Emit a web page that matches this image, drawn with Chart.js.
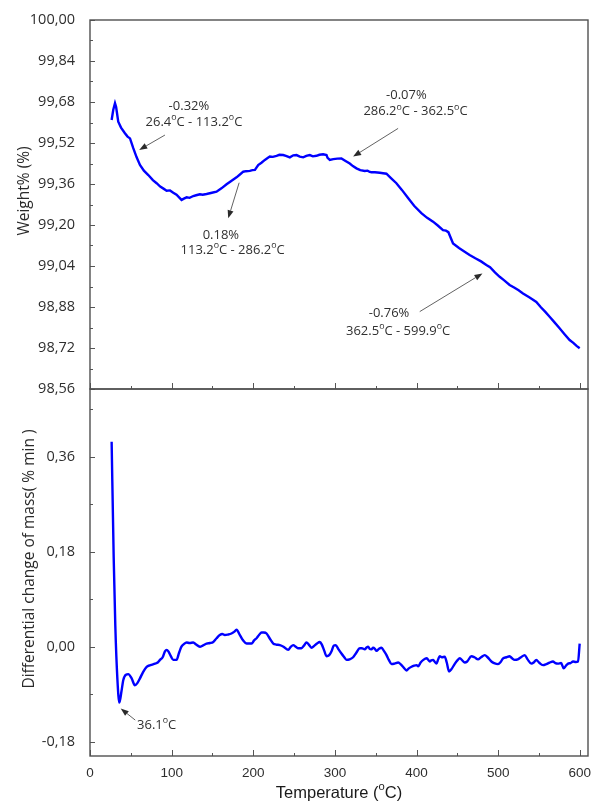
<!DOCTYPE html>
<html>
<head>
<meta charset="utf-8">
<script src="https://cdn.jsdelivr.net/npm/chart.js@4/dist/chart.umd.min.js"></script>
<style>
  html, body { margin: 0; padding: 0; background: #ffffff; }
  #wrap { position: relative; width: 592px; height: 810px; }
  #wrap canvas { position: absolute; left: 0; top: 0; }
</style>
</head>
<body>
<div id="wrap">
  <canvas id="tg" width="592" height="810"></canvas>
  <canvas id="dtg" width="592" height="810"></canvas>
</div>
<script>
// ---- TG curve: temperature (°C) and residual weight (%) ----
const tgTemp = [
  26.5, 28.5, 30.6, 32, 34.6, 38, 42.8, 46, 49, 53,
  57, 61.2, 66, 71.4, 77, 81.6, 86, 90, 93.9, 98,
  102, 106, 110, 112.2, 115, 118.4, 122, 126.5, 130, 134.6,
  138, 142.8, 148, 155, 161, 167.3, 173, 179.5, 184, 187.7,
  191, 195.8, 199, 202, 206, 210, 214.2, 218, 220.3, 224,
  228.5, 232, 236.6, 240, 244.8, 249, 253, 257, 261.1, 265,
  269.3, 273, 277.4, 281, 285.6, 289.7, 291, 293.8, 298, 303,
  308, 313, 318.2, 322, 326.4, 331, 336.6, 340, 342.7, 344.8,
  349, 355, 359, 363.1, 368, 375.3, 382, 389.6, 397, 405.9,
  413, 420.2, 426, 432.4, 436, 439, 444.7, 452, 458, 465,
  472, 479, 485.5, 490, 496, 501.8, 507, 514, 520, 525,
  530.4, 538, 546.7, 552, 558, 563, 569, 575.2, 581, 587.5,
  592, 596, 599.8
];
const tgWeight = [
  99.61, 99.65, 99.675, 99.66, 99.603, 99.58, 99.558, 99.545, 99.538, 99.50,
  99.465, 99.434, 99.412, 99.395, 99.375, 99.363, 99.35, 99.342, 99.334, 99.335,
  99.326, 99.318, 99.305, 99.298, 99.303, 99.308, 99.306, 99.313, 99.316, 99.32,
  99.318, 99.321, 99.325, 99.33, 99.343, 99.359, 99.372, 99.386, 99.398, 99.408,
  99.41, 99.411, 99.414, 99.415, 99.434, 99.443, 99.454, 99.462, 99.467, 99.466,
  99.47, 99.474, 99.473, 99.47, 99.464, 99.472, 99.473, 99.467, 99.464, 99.47,
  99.473, 99.468, 99.47, 99.474, 99.476, 99.473, 99.462, 99.454, 99.457, 99.459,
  99.46, 99.45, 99.44, 99.43, 99.421, 99.414, 99.411, 99.412, 99.407, 99.406,
  99.406, 99.404, 99.402, 99.40, 99.385, 99.363, 99.337, 99.305, 99.275, 99.246,
  99.228, 99.213, 99.198, 99.18, 99.178, 99.172, 99.128, 99.11, 99.098, 99.083,
  99.07, 99.058, 99.044, 99.035, 99.015, 98.998, 98.985, 98.966, 98.955, 98.945,
  98.933, 98.918, 98.90, 98.88, 98.86, 98.842, 98.82, 98.797, 98.775, 98.751,
  98.74, 98.728, 98.719
];

// ---- DTG curve: temperature (°C) and rate of mass change (%/min) ----
const dtgTemp = [
  26.5, 29, 31, 33.5, 36, 38.5, 40.8, 44, 46.9, 51,
  55, 58, 61.2, 65, 69.4, 74, 79.6, 83, 85.7, 89,
  91.8, 94, 96, 99, 102, 106, 109, 112, 115, 118.4,
  122, 126.5, 130, 134.6, 138, 142.8, 147, 151, 155, 159,
  162, 165.2, 169, 173.3, 176.5, 179.5, 183.6, 187.5, 191.8, 197.9,
  201, 204, 207, 210.2, 213, 216.3, 220, 224.5, 228, 232.6,
  237, 242.8, 246, 249, 252, 255.1, 259, 262, 265.2, 268,
  271.3, 275, 278, 281.5, 284, 287, 289.7, 293, 296, 298.5,
  301, 304, 308, 311, 314.2, 318, 322.3, 326, 330.5, 333,
  336.6, 338.5, 340.7, 342.5, 344.8, 346.8, 349, 351, 354, 357.1,
  360, 363.2, 366, 369.3, 373, 377.5, 381, 384.5, 387.7, 390.5,
  393.8, 397, 400, 402, 405, 408.3, 412.4, 416.2, 418, 420.2,
  422, 424.4, 426.5, 428.4, 431, 434.5, 437, 439.8, 443, 447,
  450, 453, 456, 459, 462, 467.2, 471, 475.3, 479, 483.5,
  487, 491.7, 495, 499.8, 503, 506, 510, 514, 517, 520.2,
  524, 528, 532.4, 536, 540.6, 543.5, 546.7, 550, 554.9, 559,
  563, 567.1, 570, 573.2, 577, 580.2, 583, 585.6, 588.5, 591.7,
  595, 597.8, 599.8
];
const dtgRate = [
  0.388, 0.17, 0.04, -0.06, -0.106, -0.085, -0.063, -0.053, -0.052, -0.06,
  -0.073, -0.069, -0.06, -0.048, -0.038, -0.035, -0.032, -0.03, -0.025, -0.02,
  -0.009, -0.006, -0.009, -0.018, -0.025, -0.025, -0.012, 0, 0.005, 0.008,
  0.007, 0.008, 0.004, 0, 0.002, 0.006, 0.007, 0.009, 0.016, 0.022,
  0.024, 0.022, 0.023, 0.025, 0.028, 0.032, 0.022, 0.012, 0.006, 0.006,
  0.012, 0.016, 0.022, 0.027, 0.027, 0.025, 0.016, 0.006, 0.004, 0.003,
  0, -0.006, 0, 0.003, 0, -0.003, -0.003, 0.002, 0.008, 0.004,
  -0.002, 0.002, 0.006, 0.009, 0.004, -0.008, -0.018, -0.016, -0.008, 0.002,
  0.003, -0.004, -0.013, -0.019, -0.025, -0.024, -0.02, -0.012, -0.003, -0.003,
  -0.005, -0.002, 0, -0.004, -0.005, -0.002, -0.004, -0.008, -0.004, -0.002,
  -0.008, -0.016, -0.025, -0.033, -0.032, -0.03, -0.034, -0.04, -0.045, -0.041,
  -0.038, -0.036, -0.035, -0.037, -0.03, -0.025, -0.022, -0.028, -0.026, -0.025,
  -0.028, -0.032, -0.024, -0.018, -0.02, -0.019, -0.03, -0.047, -0.042, -0.032,
  -0.026, -0.022, -0.026, -0.03, -0.028, -0.018, -0.02, -0.024, -0.02, -0.016,
  -0.02, -0.028, -0.031, -0.033, -0.029, -0.022, -0.02, -0.018, -0.022, -0.025,
  -0.024, -0.02, -0.016, -0.024, -0.032, -0.03, -0.025, -0.03, -0.035, -0.033,
  -0.03, -0.028, -0.031, -0.032, -0.031, -0.041, -0.036, -0.032, -0.031, -0.028,
  -0.029, -0.028, 0.006
];

// ---- axis ticks ----
const tempTicks = [0, 100, 200, 300, 400, 500, 600];
const tempMinor = [50, 150, 250, 350, 450, 550];
const weightTicks = [98.56, 98.72, 98.88, 99.04, 99.20, 99.36, 99.52, 99.68, 99.84, 100.00];
const weightMinor = [98.64, 98.80, 98.96, 99.12, 99.28, 99.44, 99.60, 99.76, 99.92];
const rateTicks = [-0.18, 0.00, 0.18, 0.36];
const rateMinor = [-0.09, 0.09, 0.27, 0.45];

// ---- step annotations on the TG panel (text anchored in data units) ----
const tgNoteText  = ['-0.32%', '26.4°C - 113.2°C', '0.18%', '113.2°C - 286.2°C',
                     '-0.07%', '286.2°C - 362.5°C', '-0.76%', '362.5°C - 599.9°C'];
const tgNoteTemp  = [121.2, 127.3, 160.3, 174.7, 387.5, 398.7, 366.3, 377.4];
const tgNoteWeight = [99.664, 99.602, 99.161, 99.100, 99.705, 99.642, 98.855, 98.787];
const tgArrowFromTemp = [91.8, 182.7, 377.4, 403.9];
const tgArrowFromWeight = [99.551, 99.365, 99.577, 98.862];
const tgArrowToTemp = [60.3, 169.3, 322.3, 480.7];
const tgArrowToWeight = [99.493, 99.226, 99.467, 99.011];

// ---- peak annotation on the DTG panel ----
const dtgNoteText = ['36.1°C'];
const dtgNoteTemp = [81.6];
const dtgNoteRate = [-0.148];
const dtgArrowFromTemp = [55.4];
const dtgArrowFromRate = [-0.139];
const dtgArrowToTemp = [37.6];
const dtgArrowToRate = [-0.117];

const TEMP_MAX = 610;
const LABEL_FONT = '"Open Sans", "Noto Sans", sans-serif';
const ARIAL = '"Liberation Sans", Arial, sans-serif';

// draws text where each "°" is rendered as a raised small "o"
function drawDegreeText(ctx, text, cx, cy, size, family, color) {
  const parts = text.split('°');
  const small = size * 0.68;
  ctx.fillStyle = color;
  ctx.textBaseline = 'middle';
  ctx.textAlign = 'left';
  let total = 0;
  const widths = parts.map((p, i) => {
    ctx.font = size + 'px ' + family;
    const w = ctx.measureText(p).width;
    let ow = 0;
    if (i < parts.length - 1) { ctx.font = small + 'px ' + family; ow = ctx.measureText('o').width; }
    total += w + ow;
    return [w, ow];
  });
  let x = cx - total / 2;
  parts.forEach((p, i) => {
    ctx.font = size + 'px ' + family;
    ctx.fillText(p, x, cy);
    x += widths[i][0];
    if (i < parts.length - 1) {
      ctx.font = small + 'px ' + family;
      ctx.fillText('o', x, cy - size * 0.36);
      x += widths[i][1];
    }
  });
}

function drawArrow(ctx, x1, y1, x2, y2) {
  const ang = Math.atan2(y2 - y1, x2 - x1);
  const hl = 8, hw = 3;
  const bx = x2 - hl * Math.cos(ang), by = y2 - hl * Math.sin(ang);
  ctx.strokeStyle = '#3a3a3a';
  ctx.lineWidth = 0.8;
  ctx.beginPath();
  ctx.moveTo(x1, y1);
  ctx.lineTo(bx, by);
  ctx.stroke();
  ctx.fillStyle = '#2a2a2a';
  ctx.beginPath();
  ctx.moveTo(x2, y2);
  ctx.lineTo(bx + hw * Math.sin(ang), by - hw * Math.cos(ang));
  ctx.lineTo(bx - hw * Math.sin(ang), by + hw * Math.cos(ang));
  ctx.closePath();
  ctx.fill();
}

// frame, inward tick marks, axis titles and annotations for one panel
function panelDecor(cfg) {
  return {
    id: 'panelDecor',
    afterDraw(chart) {
      const { ctx, chartArea: a } = chart;
      const xs = chart.scales.x, ys = chart.scales.y;
      ctx.save();
      ctx.strokeStyle = '#555555';
      ctx.lineWidth = 1;
      ctx.beginPath();
      const yTick = (v, len) => {
        const p = Math.round(ys.getPixelForValue(v)) + 0.5;
        ctx.moveTo(a.left, p); ctx.lineTo(a.left + len, p);
      };
      const xTick = (v, len) => {
        const p = Math.round(xs.getPixelForValue(v)) + 0.5;
        ctx.moveTo(p, a.bottom); ctx.lineTo(p, a.bottom - len);
      };
      cfg.yMajor.forEach(v => yTick(v, 5));
      cfg.yMinor.forEach(v => yTick(v, 3));
      tempTicks.forEach(v => xTick(v, 6));
      tempMinor.forEach(v => xTick(v, 3));
      ctx.stroke();

      ctx.strokeStyle = '#505050';
      ctx.lineWidth = 1.4;
      ctx.strokeRect(a.left, a.top, a.right - a.left, a.bottom - a.top);

      // y-axis title
      ctx.save();
      ctx.translate(cfg.titleX, cfg.titleY);
      ctx.rotate(-Math.PI / 2);
      ctx.fillStyle = '#2a2a2a';
      ctx.font = '15.5px ' + LABEL_FONT;
      ctx.textAlign = 'center';
      ctx.textBaseline = 'middle';
      ctx.fillText(cfg.title, 0, 0);
      ctx.restore();

      // arrows and notes
      cfg.arrows.forEach(([t1, v1, t2, v2]) => {
        drawArrow(ctx, xs.getPixelForValue(t1), ys.getPixelForValue(v1),
                       xs.getPixelForValue(t2), ys.getPixelForValue(v2));
      });
      cfg.notes.forEach(([txt, t, v]) => {
        drawDegreeText(ctx, txt, xs.getPixelForValue(t), ys.getPixelForValue(v), 13, LABEL_FONT, '#303030');
      });

      if (cfg.xTitle) {
        drawDegreeText(ctx, cfg.xTitle, (a.left + a.right) / 2, 793, 16.5, ARIAL, '#1a1a1a');
      }
      ctx.restore();
    }
  };
}

const commaFmt = v => Number(v).toFixed(2).replace('.', ',');

function yScale(min, max, ticks) {
  return {
    type: 'linear', min, max,
    afterFit(s) { s.width = 90; s.paddingTop = 0; s.paddingBottom = 0; },
    afterBuildTicks(s) { s.ticks = ticks.map(v => ({ value: v })); },
    grid: { display: false },
    border: { display: false },
    ticks: { callback: commaFmt, color: '#2e2e2e', padding: 7,
             font: { family: LABEL_FONT, size: 14.5 } }
  };
}

// ---- upper panel: TG ----
new Chart(document.getElementById('tg'), {
  type: 'line',
  data: {
    datasets: [{
      data: tgTemp.map((t, i) => ({ x: t, y: tgWeight[i] })),
      borderColor: '#0000ff', borderWidth: 2.4, pointRadius: 0, fill: false, tension: 0
    }]
  },
  options: {
    responsive: false, animation: false,
    layout: { padding: { left: 0, top: 20, right: 4, bottom: 421 } },
    scales: {
      x: { type: 'linear', min: 0, max: TEMP_MAX, display: false },
      y: yScale(98.56, 100, weightTicks)
    },
    plugins: { legend: { display: false }, tooltip: { enabled: false } }
  },
  plugins: [panelDecor({
    yMajor: weightTicks, yMinor: weightMinor,
    title: 'Weight% (%)', titleX: 25, titleY: 191,
    arrows: tgArrowFromTemp.map((t, i) => [t, tgArrowFromWeight[i], tgArrowToTemp[i], tgArrowToWeight[i]]),
    notes: tgNoteText.map((s, i) => [s, tgNoteTemp[i], tgNoteWeight[i]])
  })]
});

// ---- lower panel: DTG ----
new Chart(document.getElementById('dtg'), {
  type: 'line',
  data: {
    datasets: [{
      data: dtgTemp.map((t, i) => ({ x: t, y: dtgRate[i] })),
      borderColor: '#0000ff', borderWidth: 2.4, pointRadius: 0, fill: false,
      cubicInterpolationMode: 'monotone'
    }]
  },
  options: {
    responsive: false, animation: false,
    layout: { padding: { left: 0, top: 389, right: 4, bottom: 0 } },
    scales: {
      x: {
        type: 'linear', min: 0, max: TEMP_MAX,
        afterFit(s) { s.height = 54; s.paddingLeft = 0; s.paddingRight = 0; },
        afterBuildTicks(s) { s.ticks = tempTicks.map(v => ({ value: v })); },
        grid: { display: false },
        border: { display: false },
        ticks: { color: '#2e2e2e', padding: 1, maxRotation: 0,
                 font: { family: ARIAL, size: 13.5 } }
      },
      y: yScale(-0.207, 0.488, rateTicks)
    },
    plugins: { legend: { display: false }, tooltip: { enabled: false } }
  },
  plugins: [panelDecor({
    yMajor: rateTicks, yMinor: rateMinor,
    title: 'Differential change of mass( % min )', titleX: 30, titleY: 559,
    arrows: dtgArrowFromTemp.map((t, i) => [t, dtgArrowFromRate[i], dtgArrowToTemp[i], dtgArrowToRate[i]]),
    notes: dtgNoteText.map((s, i) => [s, dtgNoteTemp[i], dtgNoteRate[i]]),
    xTitle: 'Temperature (°C)'
  })]
});
</script>
</body>
</html>
